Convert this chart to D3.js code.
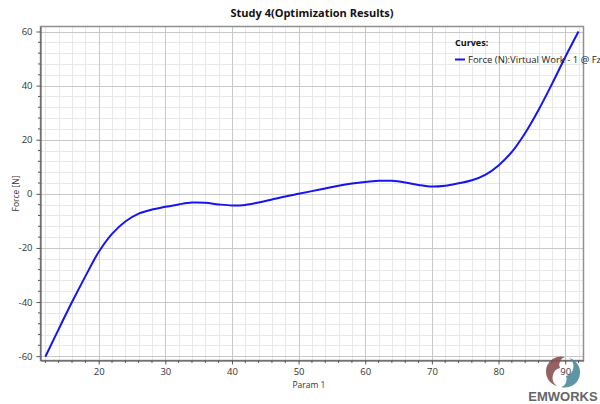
<!DOCTYPE html>
<html><head><meta charset="utf-8">
<script src="https://cdn.jsdelivr.net/npm/d3@7"></script>
<style>
html,body{margin:0;padding:0;background:#fff;}
svg{display:block;font-family:"Open Sans","Noto Sans",sans-serif;}
</style></head>
<body><svg id="c" width="600" height="404"></svg>
<script>
const chartTitle = "Study 4(Optimization Results)";
const xLabel = "Param 1";
const yLabel = "Force [N]";
const legendTitle = "Curves:";
const seriesName = "Force (N):Virtual Work - 1 @ Fz";
const paramValues = [12,14,16,18,20,22,24,26,28,30,32,34,36,38,40,42,44,46,48,50,52,54,56,58,60,62,64,66,68,70,72,74,76,78,80,82,84,86,88,90,92];
const forceValues = [-60.2,-50,-40,-30.5,-21.5,-14.8,-10.2,-7.3,-5.8,-4.8,-3.9,-3.2,-3.3,-3.9,-4.3,-4.1,-3.2,-2.1,-1.0,0,1.0,2.0,3.0,3.8,4.4,4.8,4.8,4.2,3.3,2.7,3.0,3.9,5.0,7.0,10.5,15.5,22.5,31,40.5,50.5,60];
const xTicks = [20,30,40,50,60,70,80,90];
const yTicks = [-60,-40,-20,0,20,40,60];

const svg = d3.select("#c");
const L = 40.5, R = 583.5, T = 26.5, B = 360.5;
const x = d3.scaleLinear().domain([11.27, 92.75]).range([L, R]);
const y = d3.scaleLinear().domain([-61.6, 61.85]).range([B, T]);

const xMinor = d3.range(12, 93, 2).filter(v => v % 10 !== 0);
const yMinor = d3.range(-60, 61, 4).filter(v => v % 20 !== 0);

const g = svg.append("g");
// minor grid
g.selectAll(".xm").data(xMinor).join("line")
  .attr("x1", d => Math.round(x(d)) + 0.5).attr("x2", d => Math.round(x(d)) + 0.5)
  .attr("y1", T).attr("y2", B).attr("stroke", "#e8e8e8");
g.selectAll(".ym").data(yMinor).join("line")
  .attr("y1", d => Math.round(y(d)) + 0.5).attr("y2", d => Math.round(y(d)) + 0.5)
  .attr("x1", L).attr("x2", R).attr("stroke", "#e8e8e8");
// major grid
g.selectAll(".xM").data(xTicks).join("line")
  .attr("x1", d => Math.round(x(d)) + 0.5).attr("x2", d => Math.round(x(d)) + 0.5)
  .attr("y1", T).attr("y2", B).attr("stroke", "#c8c8c8");
g.selectAll(".yM").data(yTicks).join("line")
  .attr("y1", d => Math.round(y(d)) + 0.5).attr("y2", d => Math.round(y(d)) + 0.5)
  .attr("x1", L).attr("x2", R).attr("stroke", "#c8c8c8");

// frame
svg.append("rect").attr("x", L).attr("y", T).attr("width", R - L).attr("height", B - T)
  .attr("fill", "none").attr("stroke", "#909090").attr("stroke-width", 1.5);

// axes
const fmt = d => String(d);
const xAxis = d3.axisBottom(x).tickValues(xTicks).tickFormat(fmt).tickSize(4).tickSizeOuter(0).tickPadding(4);
const yAxis = d3.axisLeft(y).tickValues(yTicks).tickFormat(fmt).tickSize(4).tickSizeOuter(0).tickPadding(4);
const gx = svg.append("g").attr("transform", `translate(0,${B})`).call(xAxis);
const gy = svg.append("g").attr("transform", `translate(${L},0)`).call(yAxis);
[gx, gy].forEach(a => {
  a.select(".domain").attr("stroke", "#555");
  a.selectAll(".tick line").attr("stroke", "#555");
  a.selectAll("text").attr("font-size", 9.5).attr("fill", "#333").attr("font-family", "'Open Sans',sans-serif");
});
// minor ticks
svg.append("g").selectAll("line").data(xMinor).join("line")
  .attr("x1", d => x(d)).attr("x2", d => x(d)).attr("y1", B).attr("y2", B + 2.5).attr("stroke", "#555");
svg.append("g").selectAll("line").data(yMinor).join("line")
  .attr("y1", d => y(d)).attr("y2", d => y(d)).attr("x1", L).attr("x2", L - 2.5).attr("stroke", "#555");

// curve
const pts = paramValues.map((p, i) => [p, forceValues[i]]);
const line = d3.line().x(d => x(d[0])).y(d => y(d[1])).curve(d3.curveCatmullRom.alpha(0.5));
svg.append("path").datum(pts).attr("d", line).attr("fill", "none")
  .attr("stroke", "#1414f5").attr("stroke-width", 2);

// title
svg.append("text").attr("x", (L + R) / 2).attr("y", 17).attr("text-anchor", "middle")
  .attr("font-size", 11).attr("font-weight", "bold").attr("fill", "#111").text(chartTitle);
// axis labels
svg.append("text").attr("x", (L + R) / 2 - 3).attr("y", 387.5).attr("text-anchor", "middle")
  .attr("font-size", 8.5).attr("fill", "#333").text(xLabel);
svg.append("text").attr("transform", `translate(19,${(T + B) / 2}) rotate(-90)`).attr("text-anchor", "middle")
  .attr("font-size", 8.5).attr("fill", "#333").text(yLabel);

// legend
svg.append("text").attr("x", 455).attr("y", 46).attr("font-size", 9).attr("font-weight", "bold")
  .attr("fill", "#111").text(legendTitle);
svg.append("line").attr("x1", 455).attr("x2", 465).attr("y1", 59.5).attr("y2", 59.5)
  .attr("stroke", "#1414f5").attr("stroke-width", 2);
svg.append("text").attr("x", 468).attr("y", 62.5).attr("font-size", 9.5).attr("fill", "#222").text(seriesName);

// EMWORKS logo
const lg = svg.append("g").attr("transform", "translate(563,372)");
lg.append("path").attr("d", "M2,-15 A15,15 0 0 0 -6,14 A10,10 0 0 1 -3,-4 A8,8 0 0 1 2,-15 Z").attr("fill", "#8a5050").attr("opacity", 0.9);
lg.append("path").attr("d", "M-2,15 A15,15 0 0 0 6,-14 A10,10 0 0 1 3,4 A8,8 0 0 1 -2,15 Z").attr("fill", "#4a8a9a").attr("opacity", 0.9);
svg.append("text").attr("x", 563).attr("y", 401).attr("text-anchor", "middle")
  .attr("font-size", 13).attr("font-weight", "bold").attr("fill", "#666").attr("font-family", "'Liberation Sans',Arial,sans-serif").text("EMWORKS");
</script></body></html>
